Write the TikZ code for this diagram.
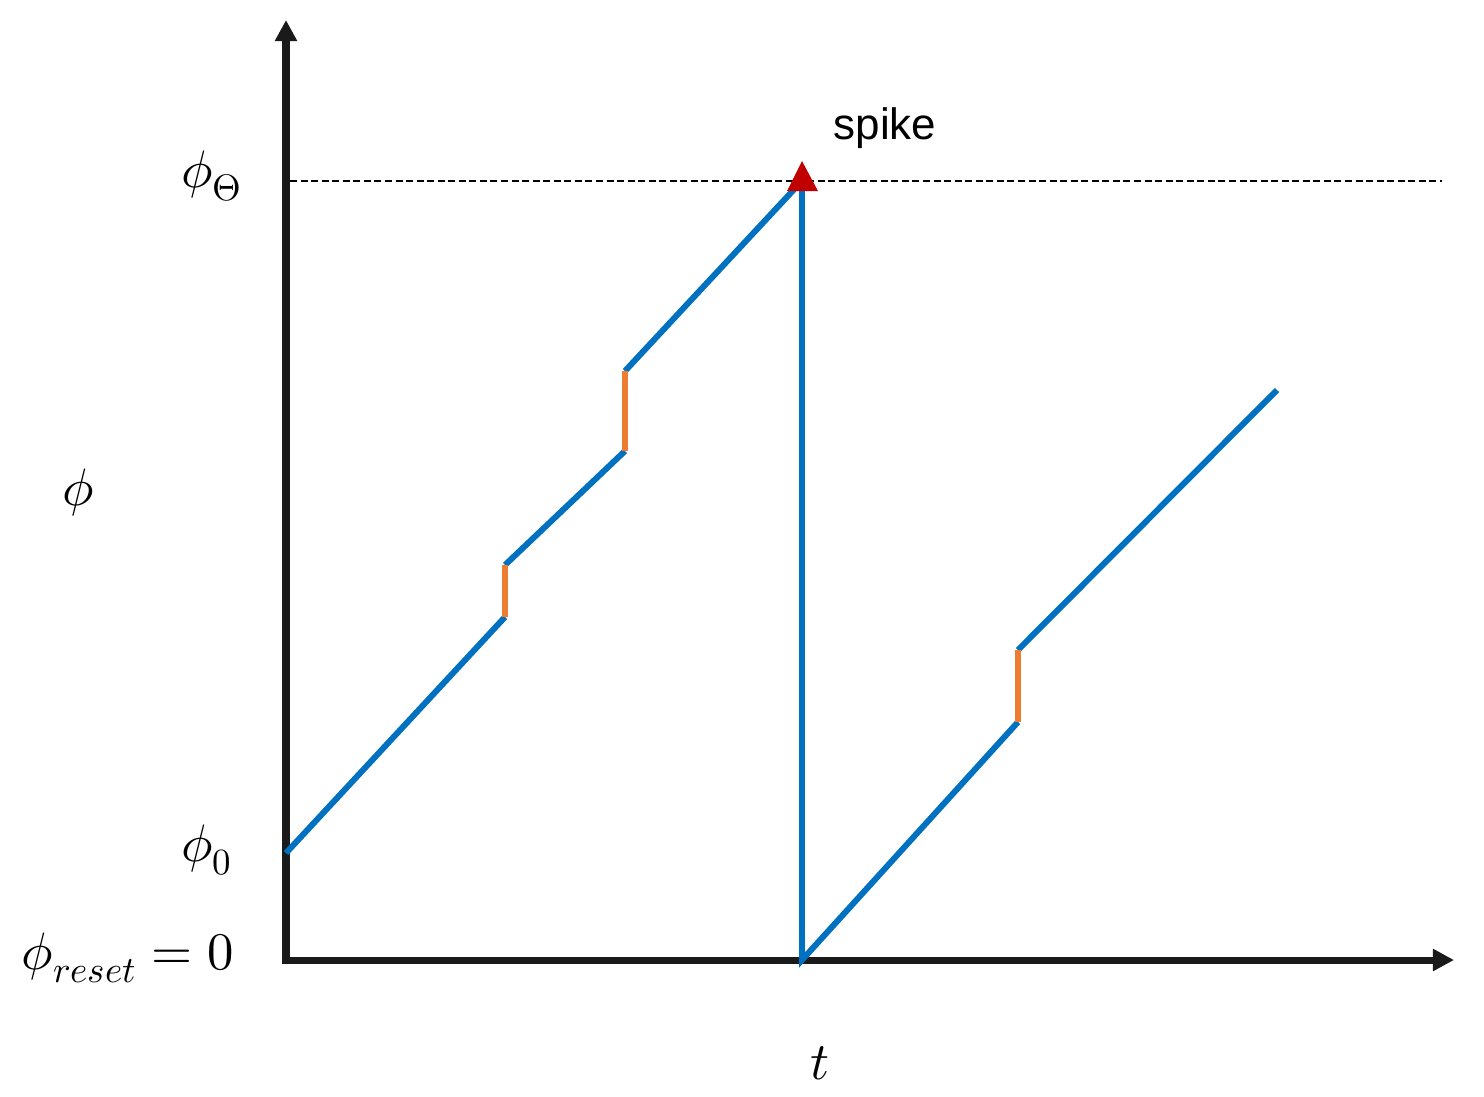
\documentclass[tikz,border=0pt]{standalone}
\usepackage{fontspec}
\usepackage{unicode-math}
\newfontfamily\spikefont{Liberation Sans}
\usetikzlibrary{arrows.meta}
\definecolor{lineblue}{HTML}{0070C0}
\definecolor{kickorange}{HTML}{ED7D31}
\definecolor{spikered}{HTML}{C00000}
\definecolor{axisgray}{HTML}{1A1A1A}
\begin{document}
\begin{tikzpicture}[x=0.01cm,y=-0.01cm,
  axisline/.style={line width=2pt,draw=axisgray,-{Triangle[length=6pt,width=6pt]}},
  trace/.style={line width=1.7pt,draw=lineblue},
  kick/.style={line width=1.5pt,draw=kickorange},
  lbl/.style={inner sep=0pt,font=\fontsize{15}{18}\selectfont}]
\useasboundingbox (0,0) rectangle (1484,1096);
% axes
\coordinate (O) at (286,960);
\coordinate (Ytop) at (286,20);
\coordinate (Xend) at (1454,960);
\coordinate (Dl) at (290,181);
\coordinate (Dr) at (1442,181);
\draw[black,line width=0.75pt,dash pattern=on 2pt off 1pt] (Dl) -- (Dr);
\draw[axisline] ([yshift=-1pt]O) -- (Ytop);
\draw[axisline] ([xshift=-1pt]O) -- (Xend);
% trace points
\coordinate (p0) at (286,853);
\coordinate (p1) at (505,617);
\coordinate (p2) at (505,565);
\coordinate (p3) at (625,451);
\coordinate (p4) at (625,371);
\coordinate (p5) at (800,183);
\coordinate (p6) at (802,185);
\coordinate (p7) at (802,960);
\coordinate (p8) at (1018,722);
\coordinate (p9) at (1018,650);
\coordinate (p10) at (1277,390);
\draw[trace] (p0) -- (p1);
\draw[trace] (p2) -- (p3);
\draw[trace] (p4) -- (p5);
\draw[trace] (p6) -- (p7) -- (p8);
\draw[trace] (p9) -- (p10);
\draw[kick] (p1) -- (p2);
\draw[kick] (p3) -- (p4);
\draw[kick] (p8) -- (p9);
% spike marker
\coordinate (apex) at (802,161);
\coordinate (bl) at (787,191);
\coordinate (br) at (818,191);
\fill[spikered] (apex) -- (bl) -- (br) -- cycle;
\node[inner sep=0pt,font=\spikefont\fontsize{12.5}{15}\selectfont] (spike) at (885,128) {spike};
% labels
\node[lbl] (lth) at (212,176) {$\phi_{\Theta}$};
\node[lbl] (l0) at (207,850) {$\phi_0$};
\node[lbl] (lr) at (128,958) {$\phi_{reset}=0$};
\node[lbl] (lphi) at (78,493) {$\phi$};
\node[lbl] (lt) at (820,1063) {$t$};
\end{tikzpicture}
\end{document}
